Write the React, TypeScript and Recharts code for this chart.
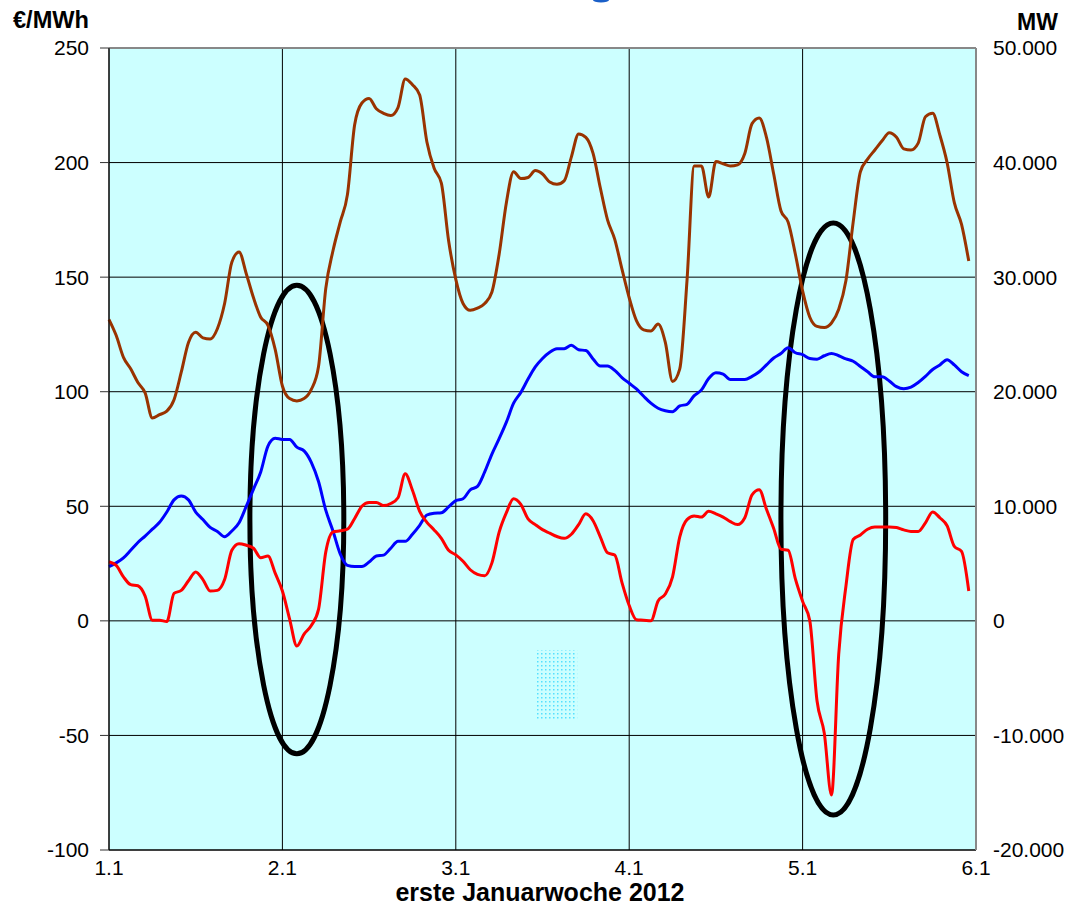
import {
  CartesianGrid,
  Line,
  LineChart,
  ReferenceArea,
  ReferenceLine,
  XAxis,
  YAxis,
} from "recharts";

const FONT = "'Liberation Sans', Arial, sans-serif";

// x axis: hours since 1.1 00:00, one label per day
const dayLabels = ["1.1", "2.1", "3.1", "4.1", "5.1", "6.1"];
const dayTicks = [0, 24, 48, 72, 96, 120];

const priceTicks = [-100, -50, 0, 50, 100, 150, 200, 250];
const mwTicks = [-20000, -10000, 0, 10000, 20000, 30000, 40000, 50000];

// red, €/MWh (left axis), hourly
const price = [
  25.8, 24.2, 19.2, 15.8, 15.3, 10.8, 0.3, 0.3, -0.3, 12, 13.3, 17.5, 21.3, 18,
  13, 13.3, 18, 30.8, 33.7, 33, 31.7, 27.5, 28.3, 20.8, 13, 0.8, -11, -5.8, -2,
  5, 30, 38.8, 39.3, 40, 44.7, 50, 51.7, 51.7, 50.3, 51.2, 53.7, 64.2, 57, 47.8,
  43, 39.7, 36, 30.8, 28.8, 26, 22.3, 20.3, 19.7, 25.3, 38.7, 47.2, 53.3, 50.8,
  44.5, 42, 39.8, 38.3, 36.8, 36, 37.8, 42, 46.7, 43.7, 36.7, 29.7, 28.7, 16.7,
  6.7, 0.5, 0.3, 0, 8.7, 11.7, 19.2, 36.7, 44.2, 45.8, 45.3, 47.8, 46.7, 45.3,
  43.3, 42, 45, 55, 57.2, 48.7, 40.3, 31.3, 30.8, 18.3, 8.5, 0, -35, -49, -76,
  -14.5, 15.2, 35.5, 37.5, 40, 41, 41, 41, 40.7, 39.7, 39, 39, 42.8, 47.5, 45,
  41.5, 32.5, 30.3, 13,
];

// brown, MW (right axis)
const brownMW = [
  26300, 24900, 23000, 22000, 20800, 19900, 17700, 18000, 18300, 19300, 21700,
  24300, 25200, 24700, 24600, 25500, 27700, 31300, 32200, 30300, 28200, 26500,
  25800, 23700, 20500, 19400, 19200, 19400, 20200, 22200, 29000, 32300, 34800,
  37200, 43300, 45200, 45600, 44700, 44300, 44100, 44800, 47300, 46800, 45900,
  41800, 39500, 38200, 33200, 29800, 27700, 27100, 27300, 27700, 28700, 32000,
  36500, 39200, 38600, 38700, 39300, 39000, 38300, 38100, 38400, 40500, 42500,
  42200, 40800, 37800, 35000, 33300, 30700, 28200, 26200, 25400, 25300, 25900,
  24300, 20900, 22000, 29700, 39700, 39700, 37000, 40100, 39900, 39700, 39800,
  40800, 43400, 43900, 42200, 39000, 35800, 34800, 32000, 28800, 26500, 25700,
  25600, 26000, 27200, 29700, 34800, 39200, 40300, 41100, 41900, 42600, 42200,
  41200, 41100, 41700, 44000, 44300, 42400, 40000, 36500, 34600, 31400,
];

// blue, MW (right axis)
const blueMW = [
  4740, 5060, 5500, 6160, 6840, 7400, 8000, 8600, 9500, 10560, 10900, 10560,
  9500, 8840, 8160, 7800, 7340, 7840, 8560, 10000, 11500, 13000, 15260, 15940,
  15840, 15840, 15160, 14840, 13840, 12160, 9660, 7840, 5840, 4840, 4740, 4740,
  5140, 5660, 5740, 6340, 6940, 6940, 7560, 8340, 9240, 9400, 9440, 9940, 10500,
  10660, 11440, 11740, 13000, 14560, 15900, 17340, 19000, 19940, 21100, 22160,
  22900, 23440, 23740, 23760, 24060, 23660, 23600, 22860, 22240, 22240, 21860,
  21240, 20740, 20240, 19600, 19000, 18560, 18340, 18260, 18760, 18900, 19660,
  20160, 21160, 21660, 21540, 21060, 21060, 21060, 21340, 21740, 22340, 22940,
  23340, 23840, 23400, 23240, 22900, 22840, 23140, 23340, 23140, 22860, 22660,
  22200, 21740, 21300, 21300, 20940, 20440, 20260, 20400, 20800, 21340, 21940,
  22340, 22800, 22340, 21740, 21400,
];

const data = price.map((p, h) => ({
  h,
  price: p,
  brown: brownMW[h],
  blue: blueMW[h],
}));

// the two marked periods (hours / €/MWh)
const marks = [
  { x1: 19.5, x2: 32.5, y1: -58, y2: 146.5 },
  { x1: 93, x2: 107.5, y1: -84.7, y2: 173.6 },
];

const fmtMW = (v: number) => {
  const s = Math.abs(v)
    .toString()
    .replace(/\B(?=(\d{3})+(?!\d))/g, ".");
  return v < 0 ? "-" + s : s;
};

const ellipse = (p: any) => (
  <ellipse
    cx={p.x + p.width / 2}
    cy={p.y + p.height / 2}
    rx={Math.abs(p.width / 2)}
    ry={Math.abs(p.height / 2)}
    fill="none"
    stroke="#000"
    strokeWidth={5}
  />
);

const tick = { fill: "#000", fontSize: 21, fontFamily: FONT };

export default function App() {
  return (
    <div
      style={{ position: "absolute", left: 0, top: 0, width: 1073, height: 907 }}
    >
      <LineChart
        width={1073}
        height={907}
        data={data}
        margin={{ top: 48, right: 27, bottom: 27, left: 49 }}
      >
        <CartesianGrid
          yAxisId="left"
          stroke="#000"
          fill="#ccffff"
          fillOpacity={1}
        />
        <XAxis
          dataKey="h"
          type="number"
          domain={[0, 120]}
          ticks={dayTicks}
          interval={0}
          tickFormatter={(v: number) => dayLabels[v / 24]}
          tick={tick}
          tickLine={false}
          tickSize={0}
          tickMargin={10}
          axisLine={{ stroke: "#000" }}
          height={30}
        />
        <YAxis
          yAxisId="left"
          domain={[-100, 250]}
          ticks={priceTicks}
          interval={0}
          tick={tick}
          tickSize={9}
          tickMargin={11}
          tickLine={{ stroke: "#333" }}
          axisLine={{ stroke: "#000" }}
          width={60}
        />
        <YAxis
          yAxisId="right"
          orientation="right"
          domain={[-20000, 50000]}
          ticks={mwTicks}
          interval={0}
          tickFormatter={fmtMW}
          tick={tick}
          tickLine={false}
          tickSize={0}
          tickMargin={17}
          axisLine={{ stroke: "#888", strokeWidth: 2 }}
          width={70}
        />
        <ReferenceLine yAxisId="left" y={250} stroke="#888" strokeWidth={2} />
        <ReferenceArea
          yAxisId="left"
          x1={59.2}
          x2={64.8}
          y1={-43.3}
          y2={-12.7}
          fill="url(#dots)"
          fillOpacity={1}
          stroke="none"
        />
        <Line
          yAxisId="right"
          dataKey="brown"
          stroke="#993300"
          strokeWidth={3}
          dot={false}
          type="monotone"
          isAnimationActive={false}
        />
        <Line
          yAxisId="right"
          dataKey="blue"
          stroke="#0000ff"
          strokeWidth={3}
          dot={false}
          type="monotone"
          isAnimationActive={false}
        />
        <Line
          yAxisId="left"
          dataKey="price"
          stroke="#ff0000"
          strokeWidth={3}
          dot={false}
          type="monotone"
          isAnimationActive={false}
        />
        {marks.map((m, i) => (
          <ReferenceArea
            key={i}
            yAxisId="left"
            {...m}
            shape={ellipse}
            ifOverflow="visible"
          />
        ))}
      </LineChart>
      <svg
        width={1073}
        height={907}
        overflow="visible"
        style={{ position: "absolute", left: 0, top: 0, pointerEvents: "none" }}
      >
        <defs>
          <pattern id="dots" width={4} height={4} patternUnits="userSpaceOnUse">
            <rect width={4} height={4} fill="#ccffff" />
            <rect x={1} y={1} width={1.5} height={1.5} fill="#55e0ff" />
          </pattern>
        </defs>
        <ellipse cx={601} cy={0} rx={8} ry={2.5} fill="#1a5fc8" />
        <text
          x={13}
          y={28}
          fontFamily={FONT}
          fontWeight="bold"
          fontSize={23}
          textLength={76}
          lengthAdjust="spacingAndGlyphs"
        >
          €/MWh
        </text>
        <text x={1017} y={30} fontFamily={FONT} fontWeight="bold" fontSize={23}>
          MW
        </text>
        <text
          x={540}
          y={901}
          textAnchor="middle"
          fontFamily={FONT}
          fontWeight="bold"
          fontSize={25}
        >
          erste Januarwoche 2012
        </text>
      </svg>
    </div>
  );
}
